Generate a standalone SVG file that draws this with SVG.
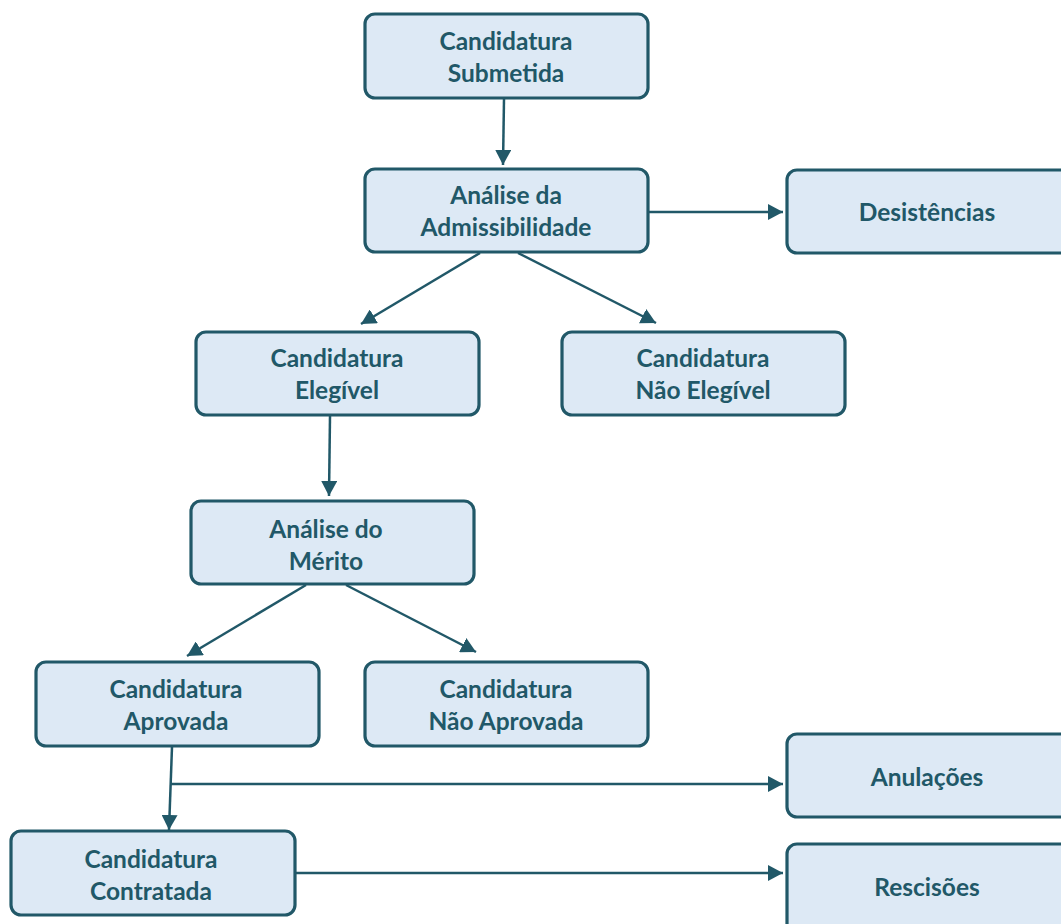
<svg xmlns="http://www.w3.org/2000/svg" width="1061" height="924" viewBox="0 0 1061 924">
  <style>
    .box { fill: #dde9f5; stroke: #215868; stroke-width: 3.2; }
    .lbl { font-family: Lato, "Open Sans", sans-serif; font-weight: bold; font-size: 24.5px; fill: #215868; text-anchor: middle; }
    .con { fill: none; stroke: #215868; stroke-width: 2.5; }
  </style>
  <defs>
    <marker id="arrow" viewBox="0 0 15 16" refX="15" refY="8" markerWidth="15" markerHeight="16" markerUnits="userSpaceOnUse" orient="auto">
      <path d="M0,0 L15,8 L0,16 Z" fill="#215868"/>
    </marker>
  </defs>
  <rect width="1061" height="924" fill="#ffffff"/>

  <g id="connectors">
    <line class="con" x1="504" y1="99" x2="503" y2="165" marker-end="url(#arrow)"/>
    <line class="con" x1="649" y1="212" x2="783" y2="212" marker-end="url(#arrow)"/>
    <line class="con" x1="480" y1="253" x2="361" y2="324" marker-end="url(#arrow)"/>
    <line class="con" x1="518" y1="253" x2="656" y2="323" marker-end="url(#arrow)"/>
    <line class="con" x1="330" y1="416" x2="329" y2="496" marker-end="url(#arrow)"/>
    <line class="con" x1="306" y1="585" x2="187" y2="656" marker-end="url(#arrow)"/>
    <line class="con" x1="346" y1="585" x2="476" y2="652" marker-end="url(#arrow)"/>
    <line class="con" x1="172" y1="747" x2="169" y2="830" marker-end="url(#arrow)"/>
    <line class="con" x1="171" y1="784" x2="783" y2="784" marker-end="url(#arrow)"/>
    <line class="con" x1="296" y1="873" x2="783" y2="873" marker-end="url(#arrow)"/>
  </g>

  <g id="n-submetida">
    <rect class="box" x="365" y="14" width="283" height="84" rx="10"/>
    <text class="lbl" x="506" y="50">Candidatura</text>
    <text class="lbl" x="506" y="82">Submetida</text>
  </g>
  <g id="n-admissibilidade">
    <rect class="box" x="365" y="169" width="283" height="83" rx="10"/>
    <text class="lbl" x="506" y="204">Análise da</text>
    <text class="lbl" x="506" y="236">Admissibilidade</text>
  </g>
  <g id="n-desistencias">
    <rect class="box" x="787" y="170" width="290" height="83" rx="10"/>
    <text class="lbl" x="927" y="221">Desistências</text>
  </g>
  <g id="n-elegivel">
    <rect class="box" x="196" y="332" width="283" height="83" rx="10"/>
    <text class="lbl" x="337" y="367">Candidatura</text>
    <text class="lbl" x="337" y="399">Elegível</text>
  </g>
  <g id="n-nao-elegivel">
    <rect class="box" x="562" y="332" width="283" height="83" rx="10"/>
    <text class="lbl" x="703" y="367">Candidatura</text>
    <text class="lbl" x="703" y="399">Não Elegível</text>
  </g>
  <g id="n-merito">
    <rect class="box" x="191" y="501" width="283" height="83" rx="10"/>
    <text class="lbl" x="326" y="538">Análise do</text>
    <text class="lbl" x="326" y="570">Mérito</text>
  </g>
  <g id="n-aprovada">
    <rect class="box" x="36" y="662" width="283" height="84" rx="10"/>
    <text class="lbl" x="176" y="698">Candidatura</text>
    <text class="lbl" x="176" y="730">Aprovada</text>
  </g>
  <g id="n-nao-aprovada">
    <rect class="box" x="365" y="662" width="283" height="84" rx="10"/>
    <text class="lbl" x="506" y="698">Candidatura</text>
    <text class="lbl" x="506" y="730">Não Aprovada</text>
  </g>
  <g id="n-anulacoes">
    <rect class="box" x="787" y="734" width="290" height="83" rx="10"/>
    <text class="lbl" x="927" y="786">Anulações</text>
  </g>
  <g id="n-contratada">
    <rect class="box" x="11" y="831" width="284" height="84" rx="10"/>
    <text class="lbl" x="151" y="868">Candidatura</text>
    <text class="lbl" x="151" y="900">Contratada</text>
  </g>
  <g id="n-rescisoes">
    <rect class="box" x="787" y="844" width="290" height="100" rx="10"/>
    <text class="lbl" x="927" y="896">Rescisões</text>
  </g>
</svg>
